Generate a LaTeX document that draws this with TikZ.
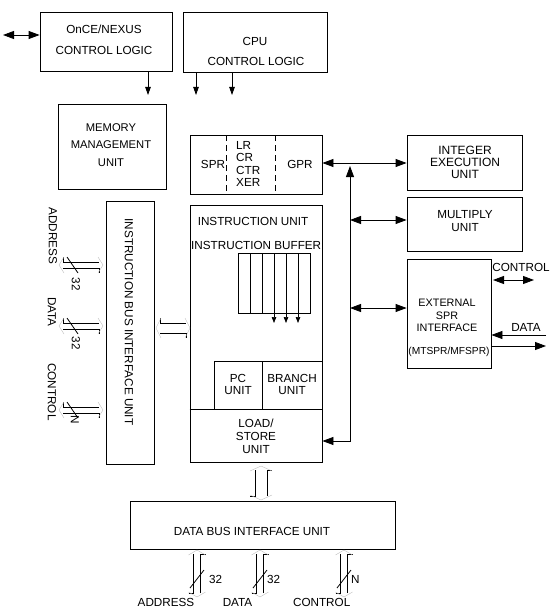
\documentclass[tikz,border=0pt]{standalone}
\usepackage{fontspec}
\setmainfont{Liberation Sans}
\usetikzlibrary{arrows.meta,fit}
\newcommand{\HBusSym}[4]{% xL, xR, yc, halfgap
  \draw[busline] (#1,#3-#4-5) -- (#1,#3-#4) -- (#2,#3-#4);
  \draw[busline] (#1,#3+#4) -- (#2,#3+#4) -- (#2,#3+#4+5);
  \draw[ghost] (#1+1,#3-#4-5) -- (#1-4,#3) -- (#1+1,#3+#4+5);
  \draw[ghost] (#2-1,#3-#4-5) -- (#2+4,#3) -- (#2-1,#3+#4+5);
}
\newcommand{\VBusSym}[4]{% xc, yT, yB, halfgap
  \draw[busline] (#1-#4-5,#3) -- (#1-#4,#3) -- (#1-#4,#2);
  \draw[busline] (#1+#4,#3) -- (#1+#4,#2) -- (#1+#4+5,#2);
  \draw[ghost] (#1-#4-5,#2+1) -- (#1,#2-4) -- (#1+#4+5,#2+1);
  \draw[ghost] (#1-#4-5,#3-1) -- (#1,#3+4) -- (#1+#4+5,#3-1);
}
\begin{document}
\begin{tikzpicture}[x=1pt,y=-1pt,
  box/.style={draw, line width=0.8pt, inner sep=0pt},
  txt/.style={inner sep=0pt, font=\fontsize{11.7}{12.5}\selectfont, align=center},
  arr/.style={line width=0.8pt, -{Triangle[length=11pt,width=8pt]}},
  darr/.style={line width=0.8pt, {Triangle[length=11pt,width=8pt]}-{Triangle[length=11pt,width=8pt]}},
  sarr/.style={line width=0.8pt, -{Triangle[length=8pt,width=5.5pt]}},
  tarr/.style={line width=0.7pt, -{Triangle[length=6pt,width=4.5pt]}},
  busline/.style={line width=0.8pt},
  ghost/.style={line width=0.4pt, black!25},
  divider/.style={line width=0.8pt, dash pattern=on 6pt off 4pt},
]
\useasboundingbox (0,0) rectangle (556,615);

% top control logic
\node[box, fit={(40,12)(172,71)}] (once) {};
\node[txt] (onceA) at (104,29) {OnCE/NEXUS};
\node[txt] (onceB) at (104,50) {CONTROL LOGIC};
\node[box, fit={(183,12)(327,72)}] (cpu) {};
\node[txt] (cpuA) at (255,41) {CPU};
\node[txt] (cpuB) at (256,61) {CONTROL LOGIC};
\coordinate (extL) at (3,35);
\draw[darr] (extL) -- (once.west |- extL);
\coordinate (onceOut) at (148,95);
\coordinate (cpuOutA) at (196,95);
\coordinate (cpuOutB) at (232,95);
\draw[sarr] (once.south -| onceOut) -- (onceOut);
\draw[sarr] (cpu.south -| cpuOutA) -- (cpuOutA);
\draw[sarr] (cpu.south -| cpuOutB) -- (cpuOutB);

% MMU
\node[box, fit={(58,104)(166,189)}] (mmu) {};
\node[txt, font=\fontsize{11.2}{17.5}\selectfont] (mmuT) at (111,145) {MEMORY\\MANAGEMENT\\UNIT};

% registers
\node[box, fit={(190,135)(322,194)}] (reg) {};
\draw[divider] (226,135) -- (226,194);
\draw[divider] (275,135) -- (275,194);
\node[txt] (spr) at (213,164) {SPR};
\node[txt, align=left, anchor=west] (lrcr) at (236,164) {LR\\CR\\CTR\\XER};
\node[txt] (gpr) at (300,164) {GPR};

% execution units
\node[box, fit={(407,135)(522,190)}] (ieu) {};
\node[txt, font=\fontsize{12}{12}\selectfont] (ieuT) at (465,162) {INTEGER\\EXECUTION\\UNIT};
\node[box, fit={(407,197)(522,251)}] (mul) {};
\node[txt] (mulT) at (465,221) {MULTIPLY\\UNIT};
\node[box, fit={(407,259)(491,368)}] (ext) {};
\node[txt, font=\fontsize{10.8}{12.5}\selectfont] (extT) at (447,315.5) {EXTERNAL\\SPR\\INTERFACE};
\node[txt, font=\fontsize{10.2}{11}\selectfont] (extM) at (449,352) {(MTSPR/MFSPR)};

% internal bus
\coordinate (yG) at (0,163);
\draw[darr] (reg.east |- yG) -- (ieu.west |- yG);
\coordinate (bT) at (350,166);
\coordinate (bB) at (350,441);
\coordinate (bM) at (350,220);
\coordinate (bE) at (350,308);

% right side control/data
\node[txt] (ctrlR) at (521,267) {CONTROL};
\coordinate (cL) at (493,280);
\coordinate (cR) at (534,280);
\draw[darr] (cL) -- (cR);
\node[txt] (dataR) at (526,327) {DATA};
\coordinate (dIn) at (546,335);
\coordinate (dOut) at (546,346);
\draw[arr] (dIn) -- (ext.east |- dIn);
\draw[arr] (ext.east |- dOut) -- (dOut);

% instruction unit
\node[box, fit={(190,205)(322,462)}] (iu) {};
\node[txt] (iuT) at (253,221) {INSTRUCTION UNIT};
\node[txt, anchor=west] (ibT) at (191,245) {INSTRUCTION BUFFER};
\node[box, fit={(238,253)(310,313)}] (buf) {};
\foreach \xx in {250,262,274,286,298} \draw[line width=0.8pt] (\xx,253) -- (\xx,313);
\foreach \xx in {274,286,298} {
  \coordinate (bo\xx) at (\xx,323);
  \draw[tarr] (buf.south -| bo\xx) -- (bo\xx);
}
\node[box, fit={(214,361)(262,409)}] (pc) {};
\node[box, fit={(262,361)(322,409)}] (br) {};
\node[txt] (pcT) at (238,384.5) {PC\\UNIT};
\node[txt] (brT) at (292,384.5) {BRANCH\\UNIT};
\draw[line width=0.8pt] (iu.west |- pc.south) -- (iu.east |- pc.south);
\node[txt, font=\fontsize{11.7}{13}\selectfont] (lsT) at (256,436) {LOAD/\\STORE\\UNIT};

\draw[darr] (bT) -- (bB) -- (iu.east |- bB);
\draw[darr] (bM) -- (mul.west |- bM);
\draw[darr] (bE) -- (ext.west |- bE);

% instruction bus interface unit
\node[box, fit={(106,201)(154,464)}] (ibiu) {};
\node[txt, rotate=-90] (ibiuT) at (129,322) {INSTRUCTION BUS INTERFACE UNIT};
\node[txt, rotate=-90] (lAddr) at (53,236) {ADDRESS};
\node[txt, rotate=-90] (lData) at (52,312) {DATA};
\node[txt, rotate=-90] (lCtrl) at (52,392) {CONTROL};
\HBusSym{63}{99}{265}{3}
\HBusSym{63}{99}{326}{3}
\HBusSym{63}{99}{410}{3}
\draw[busline] (67,257) -- (78,273);
\draw[busline] (67,318) -- (78,334);
\draw[busline] (67,402) -- (78,418);
\node[txt, rotate=-90] (wAddr) at (76,284) {32};
\node[txt, rotate=-90] (wData) at (76,343) {32};
\node[txt, rotate=-90] (wCtrl) at (75,420) {N};
\HBusSym{160}{186}{328}{5}

% data bus interface unit
\node[box, fit={(130,501)(395,549)}] (dbiu) {};
\node[txt] (dbiuT) at (252,531) {DATA BUS INTERFACE UNIT};
\VBusSym{261}{470}{496}{6}
\VBusSym{197}{554}{593}{3.5}
\VBusSym{260}{554}{593}{3.5}
\VBusSym{344}{554}{593}{3.5}
\draw[busline] (190,588) -- (204,570);
\draw[busline] (253,588) -- (267,570);
\draw[busline] (337,588) -- (351,570);
\node[txt, anchor=west] (bwA) at (209,579) {32};
\node[txt, anchor=west] (bwD) at (267,579) {32};
\node[txt, anchor=west] (bwC) at (351,579) {N};
\node[txt] (bAddr) at (166,602) {ADDRESS};
\node[txt] (bData) at (237.5,602) {DATA};
\node[txt] (bCtrl) at (321.7,602) {CONTROL};
\end{tikzpicture}
\end{document}
